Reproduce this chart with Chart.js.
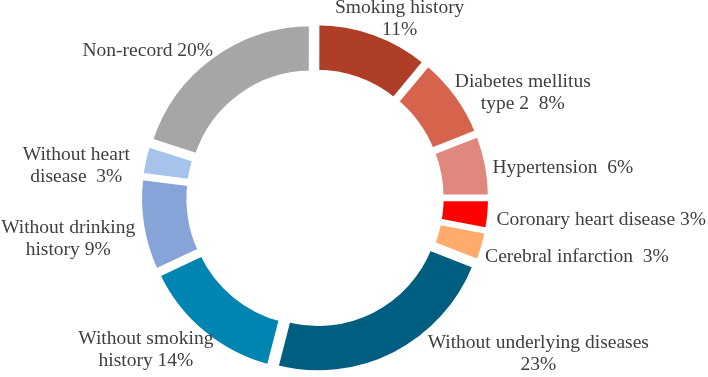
<!DOCTYPE html>
<html>
<head>
<meta charset="utf-8">
<script src="https://cdn.jsdelivr.net/npm/chart.js@4/dist/chart.umd.min.js"></script>
<style>
html,body{margin:0;padding:0;background:#fff;}
#wrap{width:708px;height:377px;position:relative;}
</style>
</head>
<body>
<div id="wrap"><canvas id="c" width="708" height="377"></canvas></div>
<script>
const categories = ["Smoking history","Diabetes mellitus type 2","Hypertension","Coronary heart disease","Cerebral infarction","Without underlying diseases","Without smoking history","Without drinking history","Without heart disease","Non-record"];
const values = [11, 8, 6, 3, 3, 23, 14, 9, 3, 20];
const labelLines = [
  ["Smoking history","11%"],
  ["Diabetes mellitus","type 2  8%"],
  ["Hypertension  6%"],
  ["Coronary heart disease 3%"],
  ["Cerebral infarction  3%"],
  ["Without underlying diseases","23%"],
  ["Without smoking","history 14%"],
  ["Without drinking","history 9%"],
  ["Without heart","disease  3%"],
  ["Non-record 20%"]
];
const colors = ["#AE3E27","#D6644D","#E0887E","#FF0000","#FFAB6E","#005E80","#0085B3","#86A4D8","#A6C4EB","#A6A6A6"];
// label placement nudges relative to the anchor just outside each arc's middle
const labelDx = [24, 63, 72, 108, 90, 142, -55, -70, -64, -62];
const labelDy = [-22, -11, 3, 5, 9, -14.5, 3, 2, -4, -2];

const EXPLODE = 6.5; // outward shift of every segment, px
const total = values.reduce((a, b) => a + b, 0);

const labelPlugin = {
  id: 'outLabels',
  afterDatasetsDraw(chart) {
    const ctx = chart.ctx;
    const meta = chart.getDatasetMeta(0);
    ctx.save();
    ctx.font = '19.5px "Liberation Serif", "Times New Roman", serif';
    ctx.fillStyle = '#404040';
    ctx.textAlign = 'center';
    ctx.textBaseline = 'middle';
    meta.data.forEach((arc, i) => {
      const p = arc.getProps(['x','y','startAngle','endAngle'], true);
      const mid = (p.startAngle + p.endAngle) / 2;
      const r = 179;
      const ax = p.x + Math.cos(mid) * r + labelDx[i];
      const ay = p.y + Math.sin(mid) * r + labelDy[i];
      labelLines[i].forEach((ln, k) => ctx.fillText(ln, ax, ay + k * 22));
    });
    ctx.restore();
  }
};

new Chart(document.getElementById('c'), {
  type: 'doughnut',
  data: {
    labels: categories,
    datasets: [{
      data: values,
      backgroundColor: colors,
      borderColor: '#ffffff',
      borderWidth: 5,
      // Chart.js moves an arc by offset/4 and grows its radius by offset/4*(1-sin C);
      // pick the offset so every segment sits EXPLODE px further out.
      offset: (c) => {
        const C = Math.min(Math.PI, values[c.dataIndex] / total * 2 * Math.PI);
        return 4 * EXPLODE / (2 - Math.sin(C));
      }
    }]
  },
  options: {
    responsive: false,
    animation: false,
    radius: 169,
    cutout: '70.8%',
    layout: { padding: { left: 0, right: 78, top: 19, bottom: 0 } },
    plugins: { legend: { display: false }, tooltip: { enabled: false } }
  },
  plugins: [labelPlugin]
});
</script>
</body>
</html>
